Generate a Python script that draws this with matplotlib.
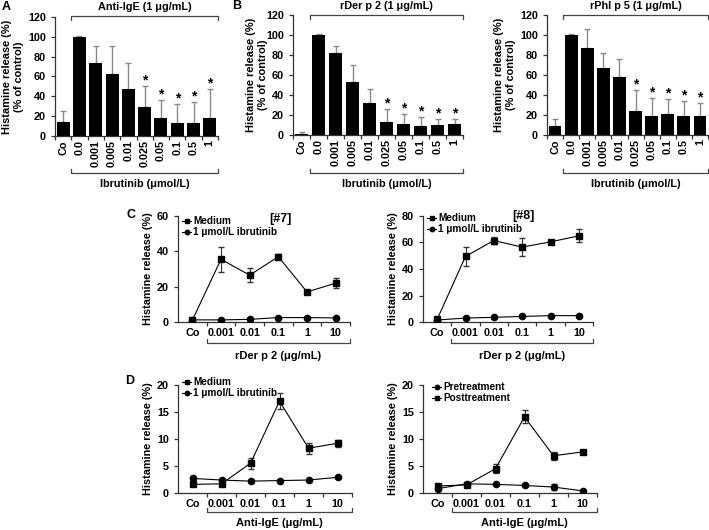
import matplotlib
matplotlib.use("Agg")
import matplotlib.pyplot as plt
from matplotlib.lines import Line2D
import numpy as np

plt.rcParams['font.family'] = ['Liberation Sans', 'DejaVu Sans']
plt.rcParams['font.weight'] = 'bold'

W, H = 709, 530

# ---------------- data: bar panels ----------------
bar_cats = ["Co", "0.0", "0.001", "0.005", "0.01", "0.025", "0.05", "0.1", "0.5", "1"]

antiige_vals = [14, 100, 74, 63, 47, 29, 18, 13, 13, 18]
antiige_tops = [25, 100.5, 91, 91, 74, 50, 36, 32, 34, 47]

derp2_vals = [1.5, 100, 82, 53, 32, 13, 11, 9, 10, 11]
derp2_tops = [3, 101, 89, 70, 46, 26, 21, 18, 16, 16]

phlp5_vals = [9, 100, 87, 67, 58, 24, 19, 21, 19, 19]
phlp5_tops = [16, 101, 106, 82, 76, 45, 37, 36, 34, 32]

star_flags = [0, 0, 0, 0, 0, 1, 1, 1, 1, 1]

# ---------------- data: line panels ----------------
line_cats = ["Co", "0.001", "0.01", "0.1", "1", "10"]

c7_medium = [1.0, 35.5, 26.5, 37.0, 17.0, 22.0]
c7_medium_err = [0.5, 7.0, 4.0, 1.5, 0.5, 3.0]
c7_ibr = [1.2, 1.2, 1.5, 2.5, 2.5, 2.3]
c7_ibr_err = [0.3, 0.3, 0.3, 0.5, 0.5, 0.5]

c8_medium = [2.0, 49.5, 61.5, 56.5, 60.5, 65.0]
c8_medium_err = [0.5, 7.0, 3.0, 7.0, 1.0, 5.0]
c8_ibr = [1.5, 3.0, 3.5, 4.2, 4.8, 4.8]
c8_ibr_err = [0.3, 0.4, 0.4, 0.5, 0.5, 0.5]

d_medium = [1.6, 1.7, 5.5, 17.0, 8.3, 9.2]
d_medium_err = [0.2, 0.2, 1.0, 1.5, 1.0, 0.6]
d_ibr = [2.7, 2.4, 2.2, 2.3, 2.4, 2.9]
d_ibr_err = [0.1, 0.1, 0.1, 0.1, 0.1, 0.1]

d_post = [1.3, 1.5, 4.5, 14.1, 6.9, 7.6]
d_post_err = [0.3, 0.3, 0.8, 1.2, 0.7, 0.4]
d_pre = [0.8, 1.7, 1.6, 1.4, 1.1, 0.4]
d_pre_err = [0.2, 0.2, 0.1, 0.1, 0.6, 0.1]

FS = 7.5


def fx(x):
    return x / W


def fy(y):
    return 1 - y / H


def px_axes(fig, left, right, top, bottom):
    return fig.add_axes([left / W, 1 - bottom / H, (right - left) / W, (bottom - top) / H])


def style_axes(ax):
    for s in ("top", "right"):
        ax.spines[s].set_visible(False)
    for s in ("left", "bottom"):
        ax.spines[s].set_linewidth(0.9)
        ax.spines[s].set_color("#333333")
    ax.tick_params(axis="both", which="major", direction="out", length=3, width=0.9,
                   labelsize=FS, color="#333333")


def bracket(ax, x0, x1, y, tick_dir, tick_len):
    tr = ax.get_xaxis_transform()
    ax.plot([x0, x0, x1, x1], [y + tick_dir * tick_len, y, y, y + tick_dir * tick_len],
            transform=tr, clip_on=False, color="#444444", lw=0.9)


def bar_panel(fig, box, vals, tops, title, ylab_x, bracket_top_y_px, bottom_br_px, xlabel_px):
    left, right, top, bottom = box
    ax = px_axes(fig, left, right, top, bottom)
    n = len(bar_cats)
    x = np.arange(n)
    ax.bar(x, vals, width=0.8, color="black", zorder=2)
    upper = [t - v for t, v in zip(tops, vals)]
    ax.errorbar(x, vals, yerr=[[0] * n, upper], fmt="none", ecolor="#8a8a8a",
                elinewidth=1.0, capsize=2.2, capthick=1.0, zorder=1)
    for i, (t, f) in enumerate(zip(tops, star_flags)):
        if f:
            ax.annotate("*", (i, t), xytext=(0, -1), textcoords="offset points",
                        ha="center", va="bottom", fontsize=10, fontweight="bold")
    ax.set_xlim(-0.5, n - 0.5)
    ax.set_ylim(0, 120)
    ax.set_yticks(range(0, 121, 20))
    ax.set_xticks(np.arange(-0.5, n, 1.0))
    ax.set_xticklabels([])
    ax.set_xticks(x, minor=True)
    ax.set_xticklabels(bar_cats, minor=True, rotation=90, fontsize=FS + 0.3, fontweight="bold")
    ax.tick_params(axis="x", which="minor", length=0, pad=3)
    style_axes(ax)
    for lab in ax.get_yticklabels():
        lab.set_fontweight("bold")
        lab.set_fontsize(FS + 0.3)
    h = bottom - top
    yb = 1 + (top - bracket_top_y_px) / h
    bracket(ax, 0.5, n - 0.5, yb, -1, 4 / h)
    ax.text((0.5 + n - 0.5) / 2, yb + 9 / h, title, transform=ax.get_xaxis_transform(),
            ha="center", va="center", fontsize=FS + 0.3, fontweight="bold")
    yb2 = (bottom - bottom_br_px) / h
    bracket(ax, 0.5, n - 0.5, yb2, 1, 4 / h)
    ax.text((0.5 + n - 0.5) / 2, (bottom - xlabel_px) / h, "Ibrutinib (μmol/L)",
            transform=ax.get_xaxis_transform(), ha="center", va="center",
            fontsize=FS + 0.3, fontweight="bold")
    fig.text(fx(ylab_x), fy((top + bottom) / 2),
             "Histamine release (%)\n(% of control)", rotation=90, ha="center",
             va="center", fontsize=FS + 0.4, fontweight="bold", linespacing=1.15)
    return ax


def draw_legend(fig, spec, labels, markers):
    hx, tx, y1, y2 = spec
    for lab, mk, yy in zip(labels, markers, (y1, y2)):
        fig.add_artist(Line2D([fx(hx), fx(hx + 9)], [fy(yy), fy(yy)], color="black", lw=0.8))
        fig.add_artist(Line2D([fx(hx + 5)], [fy(yy)], color="black", marker=mk, ms=3.2, lw=0))
        fig.text(fx(tx), fy(yy), lab, ha="left", va="center", fontsize=FS - 0.3, fontweight="bold")


def line_panel(fig, box, ser_hi, err_hi, ser_lo, err_lo, ymax, ystep, xlabel, ylab_x,
               br_px, xl_px):
    left, right, top, bottom = box
    ax = px_axes(fig, left, right, top, bottom)
    n = len(line_cats)
    x = np.arange(n)
    ax.errorbar(x, ser_lo, yerr=err_lo, fmt="-o", color="black", lw=0.8, ms=4.5,
                capsize=2, elinewidth=0.8, ecolor="#333333", zorder=3)
    ax.errorbar(x, ser_hi, yerr=err_hi, fmt="-s", color="black", lw=0.8, ms=4.5,
                capsize=2, elinewidth=0.8, ecolor="#333333", zorder=4)
    ax.set_xlim(-0.5, n - 0.5)
    ax.set_ylim(0, ymax)
    ax.set_yticks(np.arange(0, ymax + 0.1, ystep))
    ax.set_xticks(np.arange(0.5, n, 1.0))
    ax.set_xticklabels([])
    ax.set_xticks(x, minor=True)
    ax.set_xticklabels(line_cats, minor=True, fontsize=FS + 0.3, fontweight="bold")
    ax.tick_params(axis="x", which="minor", length=0, pad=4)
    style_axes(ax)
    for lab in ax.get_yticklabels():
        lab.set_fontweight("bold")
        lab.set_fontsize(FS + 0.3)
    h = bottom - top
    yb = (bottom - br_px) / h
    bracket(ax, 0.5, n - 0.5, yb, 1, 4 / h)
    ax.text((0.5 + n - 0.5) / 2, (bottom - xl_px) / h, xlabel,
            transform=ax.get_xaxis_transform(), ha="center", va="center",
            fontsize=FS + 0.5, fontweight="bold")
    fig.text(fx(ylab_x), fy((top + bottom) / 2), "Histamine release (%)",
             rotation=90, ha="center", va="center", fontsize=FS + 0.3, fontweight="bold")
    return ax


fig = plt.figure(figsize=(W / 100, H / 100), dpi=100)

bar_panel(fig, (55, 218, 17, 136), antiige_vals, antiige_tops, "Anti-IgE (1 μg/mL)", 13, 16, 173, 184)
bar_panel(fig, (293, 463, 15, 135), derp2_vals, derp2_tops, "rDer p 2 (1 μg/mL)", 257, 15, 173, 184)
bar_panel(fig, (547, 708, 15, 135), phlp5_vals, phlp5_tops, "rPhl p 5 (1 μg/mL)", 505, 15, 173, 184)

med_lab = ["Medium", "1 μmol/L ibrutinib"]
line_panel(fig, (178, 350, 216, 322), c7_medium, c7_medium_err, c7_ibr, c7_ibr_err, 60, 20,
           "rDer p 2 (μg/mL)", 148, 343, 356)
draw_legend(fig, (182, 193, 221, 232), med_lab, ["s", "o"])
fig.text(fx(280), fy(219), "[#7]", ha="center", va="center", fontsize=FS + 1.5, fontweight="bold")

line_panel(fig, (423, 593, 216, 322), c8_medium, c8_medium_err, c8_ibr, c8_ibr_err, 80, 20,
           "rDer p 2 (μg/mL)", 393, 343, 356)
draw_legend(fig, (427, 438, 218, 229), med_lab, ["s", "o"])
fig.text(fx(523), fy(216), "[#8]", ha="center", va="center", fontsize=FS + 1.5, fontweight="bold")

line_panel(fig, (178, 352, 385, 493), d_medium, d_medium_err, d_ibr, d_ibr_err, 20, 5,
           "Anti-IgE (μg/mL)", 148, 512, 523)
draw_legend(fig, (182, 193, 382, 393), med_lab, ["s", "o"])

line_panel(fig, (423, 597, 385, 493), d_post, d_post_err, d_pre, d_pre_err, 20, 5,
           "Anti-IgE (μg/mL)", 393, 512, 523)
draw_legend(fig, (432, 443, 387, 398), ["Pretreatment", "Posttreatment"], ["o", "s"])

for letter, (lx, ly) in {"A": (6, 7), "B": (237, 6), "C": (131, 215), "D": (130, 381)}.items():
    fig.text(fx(lx), fy(ly), letter, ha="center", va="center", fontsize=FS + 1.5,
             fontweight="bold")

fig.savefig("out.png", dpi=100)
